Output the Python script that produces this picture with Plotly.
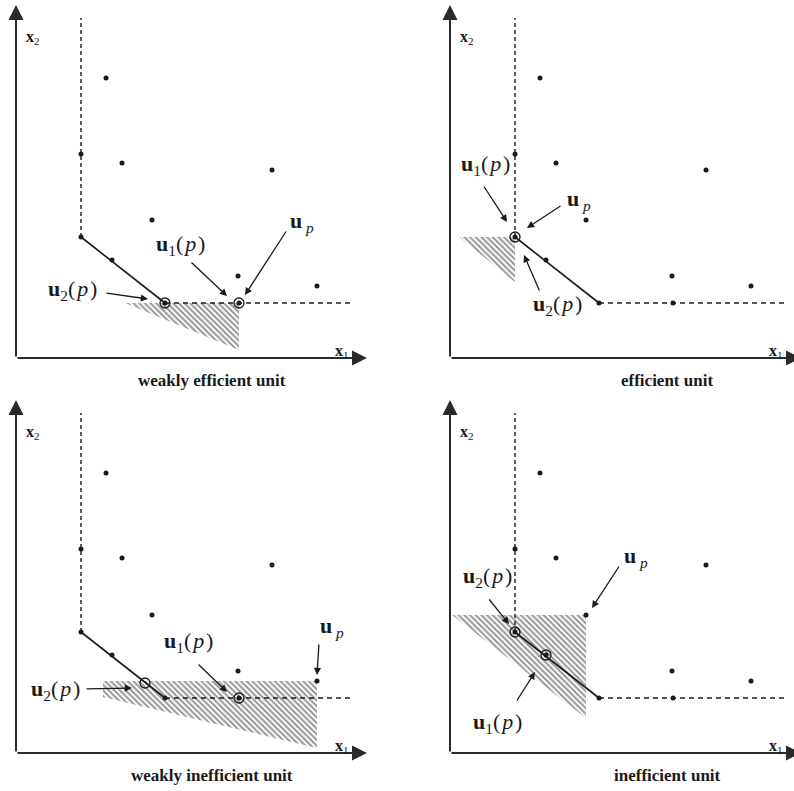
import plotly.graph_objects as go

# ---------------- data (shared sample of units, same in all four panels) ----------------
pts_x = [9.0, 6.5, 10.6, 25.6, 13.6, 6.5, 9.6, 22.2, 30.1, 14.9, 22.3]
pts_y = [28.0, 20.4, 19.5, 18.8, 13.8, 12.1, 9.8, 8.2, 7.2, 5.5, 5.5]

frontier_x = [6.5, 14.9]
frontier_y = [12.1, 5.5]
vdash_x = [6.5, 6.5]
vdash_y = [12.1, 34.0]
hdash_x = [14.9, 33.6]
hdash_y = [5.5, 5.5]

titles = ["weakly efficient unit", "efficient unit",
          "weakly inefficient unit", "inefficient unit"]

# circled points (ring + dot) per panel
ring_x = [[14.9, 22.3], [6.5], [22.3], [6.5, 9.6]]
ring_y = [[5.5, 5.5], [12.1], [5.5], [12.1, 9.8]]
# open ring without dot (projection on the segment, panel 3)
open_x = [[], [], [12.9], []]
open_y = [[], [], [7.0], []]

# hatched regions per panel
hatch_x = [[10.9, 22.3, 22.3], [0.9, 6.5, 6.5],
           [8.7, 30.1, 30.1, 8.7], [0.2, 13.6, 13.6]]
hatch_y = [[5.5, 5.5, 0.8], [12.1, 12.1, 7.6],
           [7.2, 7.2, 0.5, 5.6], [13.8, 13.8, 3.5]]

HS = "\u200a"
U1 = f"<b>u</b><sub>1</sub>({HS}<i>p</i>{HS})"
U2 = f"<b>u</b><sub>2</sub>({HS}<i>p</i>{HS})"
UP = "<b>u</b><sub> <i>p</i></sub>"

# labels: (text, x, y)
labels = [
    [(U2, 5.6, 6.8), (U1, 16.4, 11.3), (UP, 28.6, 13.6)],
    [(U1, 3.5, 19.3), (UP, 12.9, 15.8), (U2, 10.7, 5.3)],
    [(U2, 3.9, 6.3), (U1, 17.2, 11.1), (UP, 31.6, 12.6)],
    [(U2, 3.7, 17.6), (UP, 18.6, 19.6), (U1, 4.7, 3.0)],
]
# arrows: (tail x, tail y, head x, head y)
arrows = [
    [(8.9, 6.5, 13.2, 5.9), (17.4, 9.7, 21.1, 6.2), (27.1, 12.8, 22.9, 6.3)],
    [(3.3, 17.3, 5.7, 13.6), (11.2, 15.3, 7.7, 13.0), (9.0, 6.6, 7.4, 10.3)],
    [(6.9, 6.4, 11.6, 6.5), (18.1, 9.0, 21.1, 6.1), (30.3, 11.0, 30.1, 7.8)],
    [(3.8, 15.5, 5.9, 12.9), (17.0, 18.8, 14.2, 14.5), (6.6, 5.1, 8.5, 8.1)],
]

# ---------------- layout geometry ----------------
W, H = 794, 791
xdom = [[0, 397 / W], [397 / W, 1], [0, 397 / W], [397 / W, 1]]
ydom = [[396 / H, 1], [396 / H, 1], [0, 396 / H], [0, 396 / H]]
xrng = [[-1.6, 38.1], [-5.3, 34.4], [-1.6, 38.1], [-5.3, 34.4]]
yrng = [[-3.7, 35.8], [-3.7, 35.8], [-3.8, 35.8], [-3.8, 35.8]]

fig = go.Figure()
annotations = []
serif = "Liberation Serif"
ink = "#1a1a1a"

for i in range(4):
    xa = "x" if i == 0 else f"x{i+1}"
    ya = "y" if i == 0 else f"y{i+1}"

    # hatched region
    fig.add_trace(go.Scatter(
        x=hatch_x[i], y=hatch_y[i], xaxis=xa, yaxis=ya, mode="lines",
        fill="toself", fillcolor="rgba(255,255,255,0)",
        fillpattern=dict(shape="\\", size=4, solidity=0.5,
                         fgcolor="#2e2e2e", bgcolor="rgba(255,255,255,0)"),
        line=dict(width=0), hoverinfo="skip", showlegend=False))
    # dashed frontier extensions
    fig.add_trace(go.Scatter(x=vdash_x, y=vdash_y, xaxis=xa, yaxis=ya, mode="lines",
                             line=dict(color=ink, width=1.4, dash="4px,3px"),
                             showlegend=False, hoverinfo="skip"))
    fig.add_trace(go.Scatter(x=hdash_x, y=hdash_y, xaxis=xa, yaxis=ya, mode="lines",
                             line=dict(color=ink, width=1.4, dash="5px,4px"),
                             showlegend=False, hoverinfo="skip"))
    # solid frontier segment
    fig.add_trace(go.Scatter(x=frontier_x, y=frontier_y, xaxis=xa, yaxis=ya, mode="lines",
                             line=dict(color=ink, width=1.6),
                             showlegend=False, hoverinfo="skip"))
    # units
    fig.add_trace(go.Scatter(x=pts_x, y=pts_y, xaxis=xa, yaxis=ya, mode="markers",
                             marker=dict(color=ink, size=5),
                             showlegend=False, hoverinfo="skip"))
    # rings
    fig.add_trace(go.Scatter(x=ring_x[i] + open_x[i], y=ring_y[i] + open_y[i],
                             xaxis=xa, yaxis=ya, mode="markers",
                             marker=dict(symbol="circle-open", size=10, color=ink,
                                         line=dict(width=1.3, color=ink)),
                             showlegend=False, hoverinfo="skip"))

    ref = dict(xref=xa, yref=ya)
    # coordinate axes with arrowheads
    annotations.append(dict(**ref, axref=xa, ayref=ya, x=0, y=35.3, ax=0, ay=0, text="",
                            showarrow=True, arrowhead=2, arrowsize=1.5, arrowwidth=2,
                            arrowcolor="#2a2a2a", standoff=0))
    annotations.append(dict(**ref, axref=xa, ayref=ya, x=35.1, y=0, ax=0, ay=0, text="",
                            showarrow=True, arrowhead=2, arrowsize=1.5, arrowwidth=2,
                            arrowcolor="#2a2a2a", standoff=0))
    annotations.append(dict(**ref, x=1.7, y=32.1, text="<b>x</b><sub>2</sub>", showarrow=False,
                            font=dict(family=serif, size=16, color=ink)))
    annotations.append(dict(**ref, x=32.6, y=0.7, text="<b>x</b><sub>1</sub>", showarrow=False,
                            font=dict(family=serif, size=16, color=ink)))
    # labels
    for (t, lx, ly) in labels[i]:
        annotations.append(dict(**ref, x=lx, y=ly, text=t, showarrow=False,
                                font=dict(family=serif, size=22, color=ink)))
    for (tx, ty, hx, hy) in arrows[i]:
        annotations.append(dict(**ref, axref=xa, ayref=ya, x=hx, y=hy, ax=tx, ay=ty, text="",
                                showarrow=True, arrowhead=2, arrowsize=1.1, arrowwidth=1.3,
                                arrowcolor=ink, standoff=0))
    # caption
    annotations.append(dict(**ref, x=19.6 if i % 2 == 0 else 21.7, y=-2.2,
                            text=f"<b>{titles[i]}</b>", showarrow=False,
                            font=dict(family=serif, size=17, color=ink)))

layout = dict(width=W, height=H, margin=dict(l=0, r=0, t=0, b=0),
              paper_bgcolor="white", plot_bgcolor="white", showlegend=False,
              annotations=annotations)
for i in range(4):
    xk = "xaxis" if i == 0 else f"xaxis{i+1}"
    yk = "yaxis" if i == 0 else f"yaxis{i+1}"
    xa = "x" if i == 0 else f"x{i+1}"
    ya = "y" if i == 0 else f"y{i+1}"
    layout[xk] = dict(domain=xdom[i], range=xrng[i], visible=False, anchor=ya, fixedrange=True)
    layout[yk] = dict(domain=ydom[i], range=yrng[i], visible=False, anchor=xa, fixedrange=True)

fig.update_layout(**layout)
fig.write_html("out.html", config={"displayModeBar": False},
               post_script="document.body.style.margin='0px';")
